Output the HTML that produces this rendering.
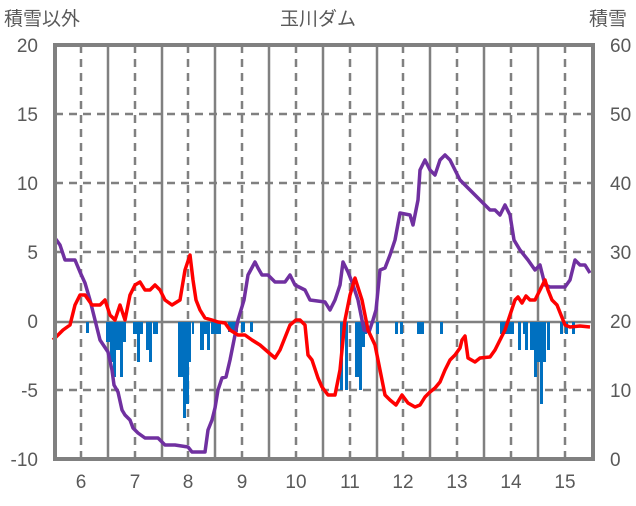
<!DOCTYPE html>
<html><head><meta charset="utf-8"><style>
body{margin:0;background:#fff}
text{font-family:"Liberation Sans","Noto Sans CJK JP",sans-serif;fill:#595959;font-size:19px}
</style></head><body>
<svg width="636" height="501" xmlns="http://www.w3.org/2000/svg">
<g stroke="#808080" stroke-width="2.5" stroke-dasharray="8,6">
<line x1="55" y1="114" x2="593" y2="114"/><line x1="55" y1="183" x2="593" y2="183"/><line x1="55" y1="252" x2="593" y2="252"/><line x1="55" y1="390" x2="593" y2="390"/>
<line x1="81" y1="45" x2="81" y2="459"/><line x1="135" y1="45" x2="135" y2="459"/><line x1="188" y1="45" x2="188" y2="459"/><line x1="242" y1="45" x2="242" y2="459"/><line x1="296" y1="45" x2="296" y2="459"/><line x1="350" y1="45" x2="350" y2="459"/><line x1="403" y1="45" x2="403" y2="459"/><line x1="457" y1="45" x2="457" y2="459"/><line x1="511" y1="45" x2="511" y2="459"/><line x1="565" y1="45" x2="565" y2="459"/>
</g>
<g stroke="#808080" stroke-width="2.5">
<line x1="108" y1="45" x2="108" y2="459"/><line x1="162" y1="45" x2="162" y2="459"/><line x1="215" y1="45" x2="215" y2="459"/><line x1="269" y1="45" x2="269" y2="459"/><line x1="323" y1="45" x2="323" y2="459"/><line x1="377" y1="45" x2="377" y2="459"/><line x1="430" y1="45" x2="430" y2="459"/><line x1="484" y1="45" x2="484" y2="459"/><line x1="538" y1="45" x2="538" y2="459"/>
<line x1="55" y1="322" x2="593" y2="322"/>
</g>
<g fill="#0070C0">
<rect x="86" y="322" width="3" height="11"/>
<rect x="106" y="322" width="4" height="20"/><rect x="110" y="322" width="3" height="40"/><rect x="113" y="322" width="3" height="55"/><rect x="116" y="322" width="4" height="28"/><rect x="120" y="322" width="3" height="55"/><rect x="123" y="322" width="3" height="20"/>
<rect x="133" y="322" width="5" height="12"/><rect x="137" y="322" width="3" height="40"/><rect x="140" y="322" width="3" height="12"/><rect x="146" y="322" width="3" height="28"/><rect x="149" y="322" width="3" height="40"/><rect x="153" y="322" width="5" height="12"/>
<rect x="178" y="322" width="5" height="55"/><rect x="183" y="322" width="3" height="96"/><rect x="186" y="322" width="3" height="82"/><rect x="189" y="322" width="2" height="40"/><rect x="192" y="322" width="2" height="12"/>
<rect x="200" y="322" width="4" height="28"/><rect x="204" y="322" width="3" height="12"/><rect x="207" y="322" width="3" height="28"/><rect x="211" y="322" width="10" height="12"/>
<rect x="228" y="322" width="10" height="10"/><rect x="241" y="322" width="4" height="10"/><rect x="250" y="322" width="3" height="10"/>
<rect x="340" y="322" width="3" height="68"/><rect x="345" y="322" width="3" height="68"/>
<rect x="355" y="322" width="4" height="55"/><rect x="359" y="322" width="3" height="68"/><rect x="362" y="322" width="3" height="25"/><rect x="365" y="322" width="2" height="12"/>
<rect x="376" y="322" width="3" height="12"/><rect x="395" y="322" width="3" height="12"/><rect x="400" y="322" width="3" height="12"/><rect x="417" y="322" width="7" height="12"/><rect x="440" y="322" width="3" height="12"/>
<rect x="500" y="322" width="9" height="12"/><rect x="509" y="322" width="5" height="12"/><rect x="518" y="322" width="3" height="28"/><rect x="523" y="322" width="2" height="12"/><rect x="525" y="322" width="3" height="28"/>
<rect x="530" y="322" width="6" height="28"/><rect x="534" y="322" width="3" height="55"/><rect x="537" y="322" width="3" height="40"/><rect x="540" y="322" width="3" height="82"/><rect x="543" y="322" width="3" height="40"/><rect x="547" y="322" width="3" height="28"/>
<rect x="560" y="322" width="3" height="12"/><rect x="565" y="322" width="3" height="12"/><rect x="572" y="322" width="3" height="12"/>
</g>
<polyline fill="none" stroke="#7030A0" stroke-width="3.5" stroke-linejoin="round" points="55,238 60,245 65,260 75,260 80,272 85,283 90,300 95,320 100,340 108,352 112,370 114,385 118,392 122,410 125,415 130,420 133,428 138,433 145,438 158,438 165,445 175,445 188,447 192,452 205,452 208,430 212,420 215,408 218,390 222,378 226,377 230,360 234,340 238,320 244,300 248,275 255,262 258,268 262,275 268,275 275,282 285,282 290,275 295,285 305,290 310,300 325,302 330,310 335,300 340,285 343,262 348,272 352,282 358,300 364,330 369,332 373,320 376,310 380,270 385,268 390,255 395,240 400,213 410,215 413,225 418,200 420,170 425,160 430,170 435,175 440,160 445,155 450,160 455,170 460,180 470,190 480,200 490,210 495,210 500,215 505,205 510,215 514,240 520,250 528,260 535,270 540,265 545,285 550,287 565,287 570,280 575,260 580,265 585,265 590,273"/>
<polyline fill="none" stroke="#FF0000" stroke-width="3.5" stroke-linejoin="round" points="53,340 58,335 63,330 70,325 75,305 80,295 85,295 92,305 100,305 105,300 110,315 115,320 120,305 125,320 130,295 135,285 140,282 145,290 150,290 155,285 160,290 165,300 172,305 180,300 185,270 190,255 193,280 196,300 200,310 205,318 212,320 218,322 225,323 230,330 238,335 245,335 252,340 260,345 268,352 275,358 280,350 290,325 296,320 300,320 305,325 308,355 312,360 318,378 322,387 328,395 335,395 340,370 345,320 350,295 355,278 362,300 368,330 375,345 380,370 385,395 390,400 396,405 402,395 408,403 415,407 420,405 425,397 430,392 435,388 440,382 445,370 450,360 455,355 460,348 462,340 465,336 468,358 475,362 480,358 490,357 495,350 505,330 510,315 515,300 518,297 522,303 526,296 530,300 535,300 540,290 545,280 548,290 552,300 557,305 565,325 570,327 580,326 590,327"/>
<rect x="55" y="45" width="538" height="414" fill="none" stroke="#808080" stroke-width="4"/>
<g text-anchor="end"><text x="38" y="52">20</text><text x="38" y="121">15</text><text x="38" y="190">10</text><text x="38" y="259">5</text><text x="38" y="328">0</text><text x="38" y="397">-5</text><text x="38" y="466">-10</text></g>
<g><text x="610" y="52">60</text><text x="610" y="121">50</text><text x="610" y="190">40</text><text x="610" y="259">30</text><text x="610" y="328">20</text><text x="610" y="397">10</text><text x="610" y="466">0</text></g>
<g text-anchor="middle"><text x="81" y="488">6</text><text x="135" y="488">7</text><text x="188" y="488">8</text><text x="242" y="488">9</text><text x="296" y="488">10</text><text x="350" y="488">11</text><text x="403" y="488">12</text><text x="457" y="488">13</text><text x="511" y="488">14</text><text x="565" y="488">15</text>
<text x="318" y="25">玉川ダム</text></g>
<text x="4" y="25">積雪以外</text><text x="589" y="25">積雪</text>
</svg>
</body></html>
